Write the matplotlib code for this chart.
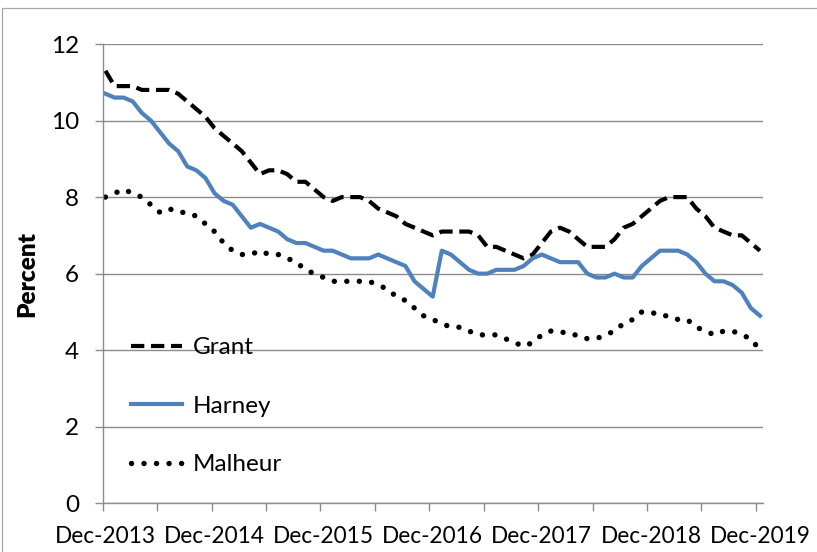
import numpy as np
import matplotlib
matplotlib.use("Agg")
import matplotlib.pyplot as plt
from matplotlib.patches import Rectangle

plt.rcParams['font.family'] = ['Lato', 'DejaVu Sans']

# Monthly values, Dec-2013 .. Dec-2019 (73 months)
grant = [11.3, 10.9, 10.9, 10.9, 10.8, 10.8, 10.8, 10.8, 10.7, 10.5, 10.3, 10.1,
         9.8, 9.6, 9.4, 9.2, 8.9, 8.6, 8.7, 8.7, 8.6, 8.4, 8.4, 8.2,
         8.0, 7.9, 8.0, 8.0, 8.0, 7.9, 7.7, 7.6, 7.5, 7.3, 7.2, 7.1,
         7.0, 7.1, 7.1, 7.1, 7.1, 7.0, 6.7, 6.7, 6.6, 6.5, 6.4, 6.5,
         6.8, 7.1, 7.2, 7.1, 6.9, 6.7, 6.7, 6.7, 6.9, 7.2, 7.3, 7.5,
         7.7, 7.9, 8.0, 8.0, 8.0, 7.7, 7.5, 7.2, 7.1, 7.0, 7.0, 6.8,
         6.6]
harney = [10.7, 10.6, 10.6, 10.5, 10.2, 10.0, 9.7, 9.4, 9.2, 8.8, 8.7, 8.5,
          8.1, 7.9, 7.8, 7.5, 7.2, 7.3, 7.2, 7.1, 6.9, 6.8, 6.8, 6.7,
          6.6, 6.6, 6.5, 6.4, 6.4, 6.4, 6.5, 6.4, 6.3, 6.2, 5.8, 5.6,
          5.4, 6.6, 6.5, 6.3, 6.1, 6.0, 6.0, 6.1, 6.1, 6.1, 6.2, 6.4,
          6.5, 6.4, 6.3, 6.3, 6.3, 6.0, 5.9, 5.9, 6.0, 5.9, 5.9, 6.2,
          6.4, 6.6, 6.6, 6.6, 6.5, 6.3, 6.0, 5.8, 5.8, 5.7, 5.5, 5.1,
          4.9]
malheur = [8.0, 8.1, 8.2, 8.1, 8.0, 7.8, 7.6, 7.7, 7.6, 7.6, 7.5, 7.3,
           7.1, 6.8, 6.6, 6.5, 6.5, 6.6, 6.5, 6.5, 6.4, 6.3, 6.1, 6.0,
           5.9, 5.8, 5.8, 5.8, 5.8, 5.8, 5.7, 5.6, 5.4, 5.3, 5.1, 4.9,
           4.8, 4.7, 4.6, 4.6, 4.5, 4.4, 4.4, 4.4, 4.3, 4.2, 4.1, 4.2,
           4.4, 4.5, 4.5, 4.4, 4.4, 4.3, 4.3, 4.4, 4.5, 4.7, 4.8, 5.0,
           5.0, 4.9, 4.9, 4.8, 4.8, 4.6, 4.5, 4.4, 4.5, 4.5, 4.4, 4.3,
           4.0]
tick_labels = ["Dec-2013", "Dec-2014", "Dec-2015", "Dec-2016",
               "Dec-2017", "Dec-2018", "Dec-2019"]
yticks = [0, 2, 4, 6, 8, 10, 12]

W, H = 817, 552
FS = 17.5
fig = plt.figure(figsize=(W / 100, H / 100), dpi=100)
fig.patches.append(Rectangle((2 / W, -0.1), 1.2, 1 - 8 / H + 0.1,
                             transform=fig.transFigure, fill=False,
                             edgecolor='#a6a6a6', linewidth=0.9))
ax = fig.add_axes([102.7 / W, 1 - 503.3 / H, (762.7 - 102.7) / W, (503.3 - 44) / H])

x = np.arange(len(grant))
grid_c = '#8c8c8c'
ax.plot(x, grant, color='black', lw=3.0, linestyle=(0, (3.2, 1.6)),
        dash_capstyle='butt', label='Grant')
ax.plot(x, harney, color='#4F81BD', lw=3.0, solid_joinstyle='round', label='Harney')
ax.plot(x, malheur, color='black', lw=3.9, linestyle=(0, (0.01, 2.3)),
        dash_capstyle='round', label='Malheur')

ax.set_xlim(-0.3, 72.3)
ax.set_ylim(0, 12)
ax.set_yticks(yticks)
ax.set_yticklabels([str(v) for v in yticks])
ax.set_xticks(np.arange(0, len(grant), 12))
ax.set_xticklabels(tick_labels)
ax.set_xticks(np.arange(-0.3, 73, 6) * (71.85 / 72.0), minor=True)
ax.tick_params(axis='x', which='major', length=0, pad=16, labelsize=16.3)
ax.tick_params(axis='x', which='minor', length=6, width=1, color=grid_c, direction='out')
ax.tick_params(axis='y', which='major', length=6, width=1, color=grid_c, pad=11, labelsize=FS)
ax.grid(axis='y', color=grid_c, linewidth=1.0)
ax.set_axisbelow(True)
for s in ['top', 'right']:
    ax.spines[s].set_visible(False)
for s in ['left', 'bottom']:
    ax.spines[s].set_color(grid_c)
    ax.spines[s].set_linewidth(1.0)

ax.set_ylabel('Percent', fontsize=FS, fontweight='heavy', labelpad=9)

leg = ax.legend(loc='upper left', bbox_to_anchor=(131 / W, 1 - 337 / H),
                bbox_transform=fig.transFigure, frameon=False, fontsize=FS,
                handlelength=2.1, handletextpad=0.45, labelspacing=1.55,
                borderpad=0, borderaxespad=0)

fig.savefig('out.png', dpi=100)
